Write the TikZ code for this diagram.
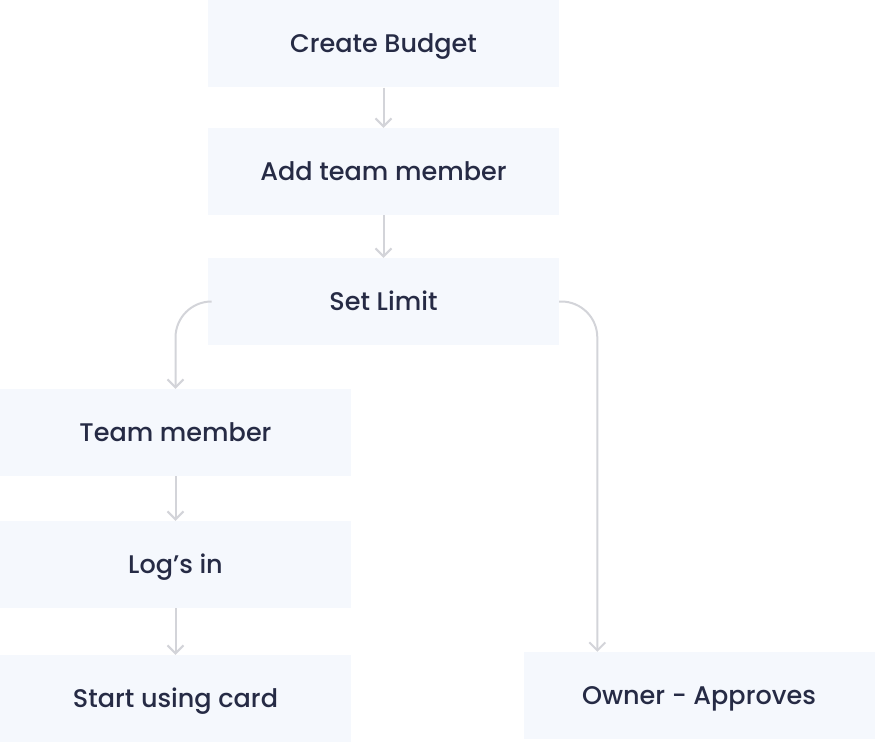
\documentclass[tikz,border=0pt]{standalone}
\usepackage{fontspec}
\setmainfont{Poppins}[UprightFont=* Medium]
\usetikzlibrary{arrows.meta}
\definecolor{boxfill}{HTML}{F5F8FD}
\definecolor{ink}{HTML}{262B45}
\definecolor{wire}{HTML}{D3D4D9}

\begin{document}
\begin{tikzpicture}[x=1pt,y=-1pt]
 \tikzstyle{Step}=[fill=boxfill, text=ink, inner sep=0pt,
                   minimum width=351pt, minimum height=87pt,
                   text height=18pt, text depth=0pt,
                   font=\fontsize{25.5}{30}\selectfont]
 \tikzstyle{Flow}=[draw=wire, line width=2pt, rounded corners=36pt,
                   -{Straight Barb[length=8pt, width=16pt]}]
 \useasboundingbox (0,0) rectangle (875,743);
 \node[Step] (budget) at (383.5,44)    {Create Budget};
 \node[Step] (member) at (383.5,171.5) {Add team member};
 \node[Step] (limit)  at (383.5,301.5) {Set Limit};
 \node[Step] (team)   at (175.5,432.5) {Team member};
 \node[Step] (login)  at (175.5,564.5) {Log’s in};
 \node[Step] (card)   at (175.5,698.5) {Start using card};
 \node[Step] (owner)  at (699,695.5)   {Owner - Approves};
 \draw[Flow] (budget) -- (member);
 \draw[Flow] (member) -- (limit);
 \draw[Flow] (limit.west) -| (team.north);
 \draw[Flow] (limit.east) -| ([xshift=74pt]owner.north west);
 \draw[Flow] (team) -- (login);
 \draw[Flow] (login) -- (card);
\end{tikzpicture}
\end{document}
